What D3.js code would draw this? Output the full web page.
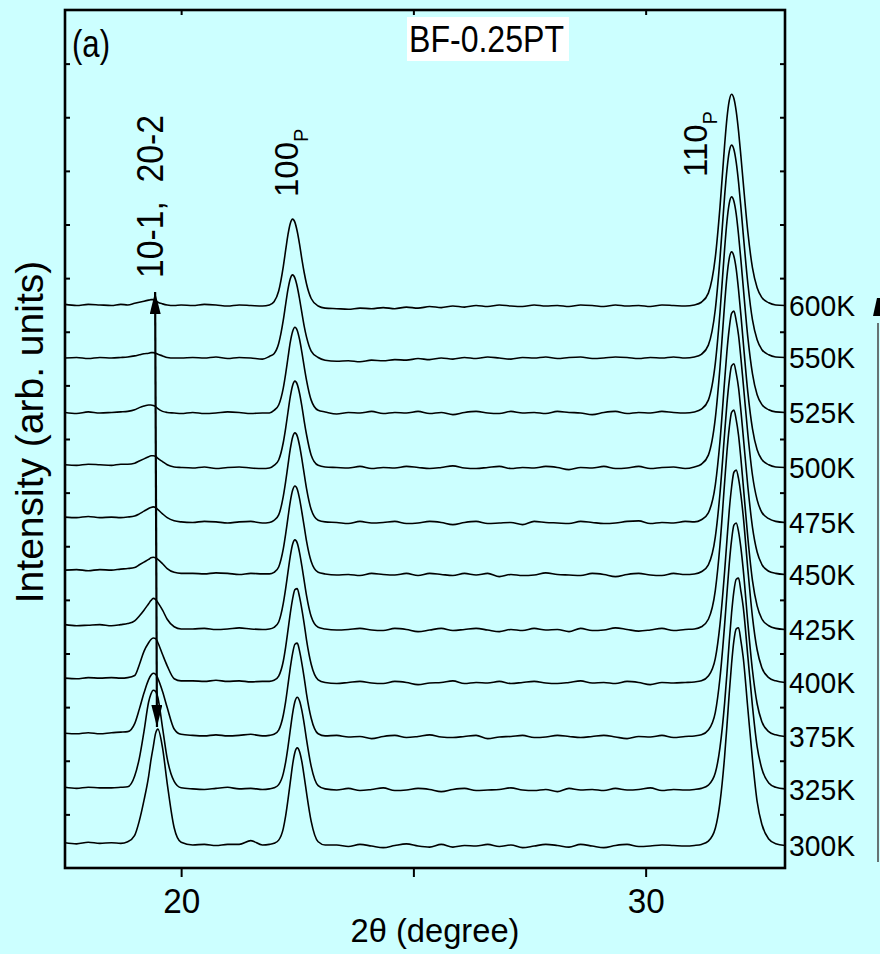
<!DOCTYPE html>
<html>
<head>
<meta charset="utf-8">
<script src="https://cdn.jsdelivr.net/npm/d3@7"></script>
<style>
  html, body { margin: 0; padding: 0; background: #ccffff; }
  svg { display: block; }
  text { font-family: "Liberation Sans", Arial, sans-serif; fill: #000; }
</style>
</head>
<body>
<svg id="chart" width="880" height="954"></svg>
<script>
// 2θ sampling grid (degrees), denser through the three reflections
const twoTheta = [
  17.5, 17.75, 18.0, 18.25, 18.5, 18.7, 18.85,
  19.0, 19.1, 19.2, 19.3, 19.35, 19.4, 19.45, 19.5, 19.6, 19.7, 19.85, 20.0,
  20.25, 20.5, 20.75, 21.0, 21.25, 21.5, 21.75,
  21.9, 22.0, 22.1, 22.2, 22.25, 22.3, 22.35, 22.4, 22.45, 22.5, 22.55, 22.6, 22.65, 22.7, 22.8, 22.95, 23.1,
  23.35, 23.6, 23.85, 24.1, 24.35, 24.6, 24.85, 25.1, 25.35, 25.6, 25.85, 26.1, 26.35, 26.6, 26.85,
  27.1, 27.35, 27.6, 27.85, 28.1, 28.35, 28.6, 28.85, 29.1, 29.35, 29.6, 29.85, 30.1, 30.35, 30.6, 30.85,
  31.05, 31.2, 31.35, 31.5, 31.6, 31.7, 31.75, 31.8, 31.85, 31.9, 31.95, 32.0, 32.05, 32.1, 32.2, 32.3,
  32.4, 32.5, 32.65, 32.8, 33.0
];

// Temperatures, bottom trace first, and the vertical stacking offset of each pattern
const temperatures = ["300K", "325K", "375K", "400K", "425K", "450K", "475K", "500K", "525K", "550K", "600K"];
const offsets = [0.41, 1.455, 2.443, 3.45, 4.438, 5.464, 6.434, 7.459, 8.485, 9.51, 10.48];

// Intensity above each pattern's own baseline (arb. units), one value per 2θ point
const i300 = [
  .06, .04, .07, .05, .06, .05, .08,
  .2, .47, .85, 1.3, 1.6, 1.85, 2.1, 2.18, 1.83, 1.17, .34, .07,
  .02, .03, .01, .03, .03, .1, .02,
  .03, .05, .11, .33, .56, .86, 1.19, 1.52, 1.75, 1.83, 1.76, 1.57, 1.29, .99, .46, .08, .02,
  .02, -.01, .03, 0, -.03, .01, .04, 0, -.02, .03, -.02, .01, 0, .03, -.01, .02, -.03, 0, .03, .01, -.02, .03, 0, -.03, .01, .03, -.01, 0, .02, .01, 0,
  .01, .03, .09, .33, .81, 1.67, 2.24, 2.85, 3.4, 3.83, 4.05, 4.07, 3.83, 3.52, 2.56, 1.61, .83, .41, .13, .04, .01
];
const i325 = [
  .05, .03, .05, .04, .04, .05, .06,
  .26, .59, 1.09, 1.64, 1.79, 1.86, 1.84, 1.72, 1.16, .59, .16, .04,
  .02, .01, .03, .05, .02, .03, .01,
  .02, .04, .1, .31, .52, .8, 1.12, 1.43, 1.65, 1.73, 1.66, 1.48, 1.23, .94, .44, .08, .02,
  0, .03, -.01, .01, .04, -.01, 0, .03, .01, -.03, .01, .03, -.01, 0, .01, .04, 0, -.01, .01, -.03, .03, 0, .01, -.01, .03, 0, .01, .04, -.01, .01, 0,
  .01, .03, .09, .32, .79, 1.62, 2.17, 2.77, 3.3, 3.71, 3.93, 3.95, 3.71, 3.42, 2.49, 1.56, .81, .4, .13, .05, .02
];
const i375 = [
  .07, .06, .08, .06, .08, .09, .1,
  .25, .52, .82, 1.07, 1.15, 1.19, 1.17, 1.09, .85, .55, .15, .05,
  .03, .02, .04, .02, .03, .05, .02,
  .03, .05, .13, .41, .66, .97, 1.29, 1.56, 1.73, 1.75, 1.6, 1.37, 1.1, .8, .35, .06, .02,
  .03, 0, .01, -.03, .01, .03, -.01, .01, .04, 0, -.01, .01, .03, -.03, 0, .01, .03, -.01, 0, .03, .01, -.01, .01, .03, 0, -.03, .01, 0, .03, -.01, .01,
  .02, .04, .13, .46, 1.1, 2.09, 2.67, 3.23, 3.67, 3.95, 3.99, 3.83, 3.53, 3.13, 2.13, 1.24, .62, .29, .1, .04, .01
];
const i400 = [
  .09, .08, .1, .09, .1, .09, .1,
  .14, .34, .59, .75, .81, .84, .83, .75, .53, .32, .08, .04,
  .04, .03, .05, .03, .04, .02, .03,
  .03, .05, .13, .41, .67, .98, 1.3, 1.57, 1.74, 1.76, 1.6, 1.37, 1.1, .8, .35, .06, .01,
  -.01, .01, .03, 0, -.01, .03, .01, -.03, 0, .01, .04, -.01, .01, 0, .03, -.01, .01, .03, 0, -.01, .01, .04, 0, .01, -.01, .03, .01, -.03, .01, 0, .01,
  .02, .04, .13, .46, 1.09, 2.08, 2.66, 3.22, 3.65, 3.93, 3.97, 3.81, 3.51, 3.12, 2.12, 1.23, .62, .29, .1, .04, .01
];
const i425 = [
  .1, .08, .09, .1, .08, .1, .12,
  .17, .26, .37, .49, .55, .59, .57, .51, .37, .2, .06, .02,
  .02, .03, .01, .02, .04, .02, .01,
  .02, .05, .15, .5, .77, 1.08, 1.38, 1.6, 1.68, 1.62, 1.44, 1.19, .91, .64, .25, .05, .02,
  0, .01, .03, 0, -.01, .03, .01, -.03, 0, .03, -.01, .01, .03, 0, -.03, .01, -.01, .03, 0, .01, -.03, .03, -.01, 0, .04, .01, -.02, 0, .03, -.01, .01,
  .02, .06, .2, .74, 1.58, 2.75, 3.32, 3.77, 4.06, 4.1, 3.92, 3.63, 3.2, 2.71, 1.72, .92, .45, .21, .08, .03, .01
];
const i450 = [
  .09, .1, .08, .1, .09, .11, .12,
  .14, .19, .24, .29, .32, .33, .32, .29, .21, .12, .05, .03,
  .03, .02, .04, .03, .01, .03, .02,
  .02, .05, .15, .49, .76, 1.07, 1.37, 1.58, 1.66, 1.6, 1.42, 1.17, .9, .63, .25, .05, .02,
  0, .01, -.01, .03, .01, 0, .03, -.01, .03, .01, -.01, .03, 0, .03, -.03, .01, -.01, 0, .04, .01, 0, -.01, .03, .01, -.03, .01, .03, 0, -.01, .03, .01,
  .02, .06, .19, .71, 1.52, 2.64, 3.19, 3.62, 3.9, 3.94, 3.76, 3.49, 3.07, 2.6, 1.65, .89, .43, .2, .07, .03, .01
];
const i475 = [
  .11, .1, .12, .1, .11, .1, .11,
  .13, .17, .22, .27, .29, .3, .29, .25, .17, .1, .04, .02,
  .01, .03, .02, 0, .02, .03, 0,
  .01, .05, .15, .5, .77, 1.08, 1.38, 1.6, 1.68, 1.62, 1.44, 1.19, .91, .64, .25, .05, .02,
  .01, -.01, .03, 0, .01, .03, -.01, 0, .03, .01, -.03, .01, .03, -.01, 0, .01, -.03, .03, .01, 0, -.01, .03, .01, -.01, 0, .03, .04, -.01, .01, 0, .03,
  .02, .06, .19, .71, 1.52, 2.65, 3.2, 3.63, 3.91, 3.95, 3.77, 3.5, 3.08, 2.61, 1.66, .89, .43, .2, .08, .03, .01
];
const i500 = [
  .06, .05, .07, .06, .05, .07, .07,
  .09, .13, .17, .21, .23, .23, .22, .18, .12, .06, .02, .01,
  0, .02, -.01, .01, .02, 0, -.01,
  0, .05, .15, .48, .74, 1.04, 1.33, 1.54, 1.62, 1.56, 1.39, 1.15, .87, .62, .24, .05, .02,
  .01, 0, .03, -.01, .01, 0, .03, .01, -.01, .01, .04, 0, -.01, .01, .03, -.01, .01, 0, .03, .01, -.03, .01, 0, .03, -.01, 0, .03, -.01, .01, .02, -.01,
  .02, .07, .24, .93, 1.87, 3.06, 3.57, 3.91, 4.03, 3.95, 3.71, 3.32, 2.86, 2.36, 1.41, .73, .34, .16, .06, .02, .01
];
const i525 = [
  .01, -.01, .02, 0, .01, .02, .03,
  .06, .1, .13, .15, .15, .14, .12, .08, .03, .01, 0, -.01,
  .01, -.01, 0, .02, .01, -.01, 0,
  0, .05, .15, .47, .73, 1.03, 1.32, 1.52, 1.6, 1.54, 1.37, 1.13, .86, .61, .24, .05, .02,
  -.02, .01, 0, .03, -.01, .01, 0, .03, -.01, .01, -.03, .01, .03, 0, -.01, .03, 0, .01, -.01, .03, .01, 0, -.03, .01, .03, -.01, .01, 0, .03, .01, 0,
  .02, .07, .24, .93, 1.87, 3.06, 3.57, 3.91, 4.03, 3.95, 3.71, 3.32, 2.86, 2.36, 1.41, .73, .34, .16, .06, .02, .01
];
const i550 = [
  0, .01, -.01, .01, 0, .01, .02,
  .04, .06, .08, .09, .1, .1, .09, .07, .04, .01, 0, 0,
  .01, 0, .02, -.01, .01, 0, -.02,
  .03, .08, .27, .71, 1.0, 1.28, 1.48, 1.55, 1.49, 1.33, 1.1, .84, .59, .39, .13, .01, -.04,
  -.06, -.05, -.07, -.04, -.05, -.03, -.04, -.01, -.03, 0, -.02, .01, -.01, .02, 0, -.02, .01, 0, .02, -.01, .01, .02, -.01, 0, .02, .01, -.01, .01, 0, .02, 0,
  .02, .07, .24, .91, 1.85, 3.02, 3.51, 3.85, 3.97, 3.89, 3.65, 3.28, 2.82, 2.32, 1.39, .71, .34, .16, .06, .02, .01
];
const i600 = [
  .03, .01, .03, .02, .01, .03, .02,
  .05, .07, .09, .11, .12, .12, .1, .07, .04, .02, .01, .02,
  .01, .03, .02, 0, .02, .01, 0,
  .02, .08, .28, .74, 1.04, 1.33, 1.54, 1.62, 1.56, 1.39, 1.15, .87, .62, .41, .14, 0, -.04,
  -.05, -.06, -.04, -.05, -.03, -.05, -.02, -.04, -.01, -.03, 0, -.02, .01, -.01, .02, 0, -.01, .02, 0, .01, -.01, .02, .01, -.01, .02, 0, .01, -.01, .02, .01, 0,
  .02, .07, .24, .91, 1.84, 3.0, 3.5, 3.83, 3.95, 3.87, 3.63, 3.26, 2.8, 2.31, 1.38, .71, .34, .16, .06, .02, .01
];
const patterns = [i300, i325, i375, i400, i425, i450, i475, i500, i525, i550, i600];

// Axis ticks
const xTicks = [20, 25, 30];
const xTickLabels = {20: "20", 30: "30"};
const yTicks = d3.range(1, 16);

// Double-headed arrow through the 10-1 / 20-2 reflection (2θ, stacked intensity)
const arrowEnds = [[19.48, 2.63], [19.44, 10.74]];

const svg = d3.select("#chart");
const frame = {left: 65, right: 785, top: 10, bottom: 868};

const x = d3.scaleLinear().domain([17.5, 33]).range([frame.left, frame.right]);
const y = d3.scaleLinear().domain([0, 16]).range([frame.bottom, frame.top]);

svg.append("rect").attr("width", 880).attr("height", 954).attr("fill", "#ccffff");

// Stacked diffraction patterns
const line = d3.line()
  .x(d => x(d[0]))
  .y(d => y(d[1]))
  .curve(d3.curveMonotoneX);

const traces = svg.append("g").attr("fill", "none").attr("stroke", "#000")
  .attr("stroke-width", 1.6).attr("stroke-linejoin", "round");
patterns.forEach((vals, i) => {
  const pts = twoTheta.map((t, k) => [t, offsets[i] + vals[k]]);
  traces.append("path").attr("d", line(pts));
});

// Temperature labels at the right end of each pattern
svg.append("g").selectAll("text").data(temperatures).join("text")
  .attr("x", frame.right + 4)
  .attr("y", (d, i) => y(offsets[i]) + 10)
  .attr("font-size", 30)
  .attr("textLength", 66)
  .attr("lengthAdjust", "spacingAndGlyphs")
  .text(d => d);

// Arrow
const defs = svg.append("defs");
defs.append("marker")
  .attr("id", "head")
  .attr("viewBox", "0 0 20 10")
  .attr("refX", 20).attr("refY", 5)
  .attr("markerUnits", "userSpaceOnUse")
  .attr("markerWidth", 22).attr("markerHeight", 11)
  .attr("orient", "auto-start-reverse")
  .append("path").attr("d", "M0,0 L20,5 L0,10 Z").attr("fill", "#000");

svg.append("line")
  .attr("x1", x(arrowEnds[0][0])).attr("y1", y(arrowEnds[0][1]))
  .attr("x2", x(arrowEnds[1][0])).attr("y2", y(arrowEnds[1][1]))
  .attr("stroke", "#000").attr("stroke-width", 2.2)
  .attr("marker-start", "url(#head)")
  .attr("marker-end", "url(#head)");

// Axes
function styleAxis(g) {
  g.select(".domain").remove();
  g.selectAll(".tick line").attr("stroke", "#000").attr("stroke-width", 2);
}
svg.append("g").attr("transform", `translate(0,${frame.bottom})`)
  .call(d3.axisBottom(x).tickValues(xTicks).tickFormat(d => xTickLabels[d] || "")
    .tickSize(9).tickPadding(11))
  .call(styleAxis)
  .call(g => g.selectAll("text").attr("font-size", 35)
    .attr("textLength", 37).attr("lengthAdjust", "spacingAndGlyphs")
    .attr("font-family", '"Liberation Sans", Arial, sans-serif').attr("fill", "#000"));
svg.append("g").attr("transform", `translate(0,${frame.top})`)
  .call(d3.axisTop(x).tickValues(xTicks).tickFormat("").tickSize(-5))
  .call(styleAxis);
svg.append("g").attr("transform", `translate(${frame.left},0)`)
  .call(d3.axisLeft(y).tickValues(yTicks).tickFormat("").tickSize(-5))
  .call(styleAxis);
svg.append("g").attr("transform", `translate(${frame.right},0)`)
  .call(d3.axisRight(y).tickValues(yTicks).tickFormat("").tickSize(-5))
  .call(styleAxis);

// Frame
svg.append("rect")
  .attr("x", frame.left).attr("y", frame.top)
  .attr("width", frame.right - frame.left).attr("height", frame.bottom - frame.top)
  .attr("fill", "none").attr("stroke", "#000").attr("stroke-width", 2.6);

// Axis titles
svg.append("text")
  .attr("x", 435).attr("y", 942)
  .attr("text-anchor", "middle")
  .attr("font-size", 33)
  .attr("textLength", 169).attr("lengthAdjust", "spacingAndGlyphs")
  .text("2θ (degree)");

svg.append("text")
  .attr("transform", "translate(43,432) rotate(-90)")
  .attr("text-anchor", "middle")
  .attr("font-size", 39)
  .text("Intensity (arb. units)");

// Panel tag and sample name
svg.append("text")
  .attr("x", 72).attr("y", 57)
  .attr("font-size", 38)
  .attr("textLength", 38).attr("lengthAdjust", "spacingAndGlyphs")
  .text("(a)");

svg.append("rect")
  .attr("x", 407).attr("y", 17).attr("width", 162).attr("height", 44)
  .attr("fill", "#fff");
svg.append("text")
  .attr("x", 409).attr("y", 52)
  .attr("font-size", 37)
  .attr("textLength", 155).attr("lengthAdjust", "spacingAndGlyphs")
  .text("BF-0.25PT");

// Reflection indices, written vertically
svg.append("text")
  .attr("transform", "translate(163,278) rotate(-90)")
  .attr("font-size", 36)
  .style("white-space", "pre")
  .attr("textLength", 163).attr("lengthAdjust", "spacingAndGlyphs")
  .text("10-1,  20-2");

const t100 = svg.append("text")
  .attr("transform", "translate(298,197) rotate(-90)")
  .attr("font-size", 33);
t100.append("tspan").text("100");
t100.append("tspan").attr("font-size", 20).attr("dy", 10).text("P");

const t110 = svg.append("text")
  .attr("transform", "translate(707,177) rotate(-90)")
  .attr("font-size", 33);
t110.append("tspan").text("110");
t110.append("tspan").attr("font-size", 20).attr("dy", 10).text("P");

// Edge of the neighbouring panel
svg.append("path")
  .attr("d", "M873,316 L877,298 L880,298 L880,316 Z")
  .attr("fill", "#000");
svg.append("line")
  .attr("x1", 878).attr("x2", 878).attr("y1", 323).attr("y2", 862)
  .attr("stroke", "#444").attr("stroke-width", 1.5);
</script>
</body>
</html>
